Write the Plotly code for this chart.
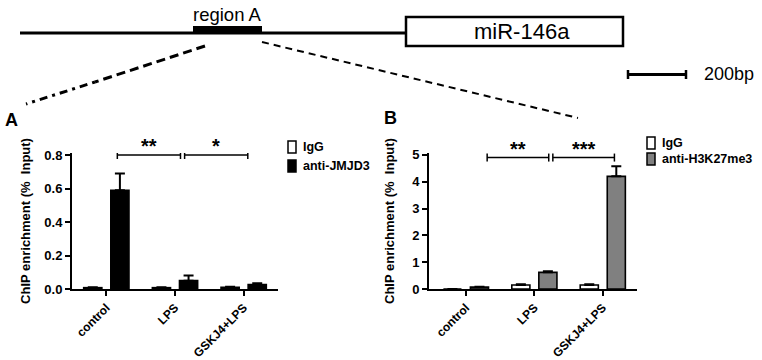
import plotly.graph_objects as go

# ---------------- data ----------------
categories = ["control", "LPS", "GSKJ4+LPS"]

a_igg = [0.008, 0.008, 0.010]
a_igg_err = [0.002, 0.002, 0.003]
a_jmjd3 = [0.59, 0.05, 0.027]
a_jmjd3_err = [0.10, 0.03, 0.008]

b_igg = [0.0, 0.15, 0.15]
b_igg_err = [0.0, 0.03, 0.03]
b_h3 = [0.07, 0.62, 4.2]
b_h3_err = [0.01, 0.04, 0.38]

a_yticks = [0.0, 0.2, 0.4, 0.6, 0.8]
b_yticks = [0, 1, 2, 3, 4, 5]

# significance brackets: (x0, x1, y, label) in category-index units
a_sig = [(0.16, 1.08, 0.80, "**"), (1.14, 2.06, 0.80, "*")]
b_sig = [(0.31, 1.21, 4.9, "**"), (1.27, 2.17, 4.9, "***")]

W, H = 762, 360
FONT = "Arial, Liberation Sans, Helvetica, sans-serif"


def px(x):
    return x / W


def py(y):
    return 1 - y / H


fig = go.Figure()


def bar(x, y, err, name, color, xa, ya):
    return go.Bar(
        x=x, y=y, name=name, xaxis=xa, yaxis=ya, showlegend=False,
        marker=dict(color=color, line=dict(color="black", width=1.6)),
        error_y=dict(type="data", array=err, arrayminus=[0] * len(err),
                     symmetric=False, color="black", thickness=2, width=5),
    )


fig.add_trace(bar(categories, a_igg, a_igg_err, "IgG", "white", "x", "y"))
fig.add_trace(bar(categories, a_jmjd3, a_jmjd3_err, "anti-JMJD3", "black", "x", "y"))
fig.add_trace(bar(categories, b_igg, b_igg_err, "IgG", "white", "x2", "y2"))
fig.add_trace(bar(categories, b_h3, b_h3_err, "anti-H3K27me3", "#808080", "x2", "y2"))

axis_common = dict(showline=True, linecolor="black", linewidth=2, ticks="outside",
                   tickwidth=2, ticklen=5, tickcolor="black", showgrid=False,
                   zeroline=False, automargin=False,
                   tickfont=dict(family=FONT, size=13, color="black"))
xtickfont = dict(family=FONT, size=12, color="black")

ytitle = "<b>ChIP enrichment (%  Input)</b>"

fig.update_layout(
    width=W, height=H, margin=dict(l=0, r=0, t=0, b=0, pad=0, autoexpand=False),
    paper_bgcolor="white", plot_bgcolor="white",
    barmode="group", bargap=0.21, bargroupgap=0.33,
    font=dict(family=FONT, color="black"),
    xaxis=dict(domain=[px(72), px(278)], anchor="y", range=[-0.5, 2.5],
               tickangle=-45, tickvals=[0, 1, 2], ticktext=["<b>%s</b>" % c for c in categories],
               **{**axis_common, "tickfont": xtickfont}),
    yaxis=dict(domain=[py(289), py(153)], anchor="x", range=[0, 0.812],
               tickvals=a_yticks, ticktext=["<b>%.1f</b>" % v for v in a_yticks],
               title=dict(text=ytitle, font=dict(family=FONT, size=13, color="black"), standoff=11),
               **axis_common),
    xaxis2=dict(domain=[px(429), px(637)], anchor="y2", range=[-0.54, 2.5],
                tickangle=-45, tickvals=[0, 1, 2], ticktext=["<b>%s</b>" % c for c in categories],
                **{**axis_common, "tickfont": xtickfont}),
    yaxis2=dict(domain=[py(289), py(153)], anchor="x2", range=[0, 5.07],
                tickvals=b_yticks, ticktext=["<b>%d</b>" % v for v in b_yticks],
                title=dict(text=ytitle, font=dict(family=FONT, size=13, color="black"), standoff=15),
                **axis_common),
)

shapes = []
annotations = []

# significance brackets
for sig, xr, yr in ((a_sig, "x", "y"), (b_sig, "x2", "y2")):
    for x0, x1, y, lab in sig:
        shapes.append(dict(type="line", xref=xr, yref=yr, x0=x0, x1=x1, y0=y, y1=y,
                           line=dict(color="black", width=1.5)))
        for xc in (x0, x1):
            shapes.append(dict(type="line", xref=xr, yref=yr, ysizemode="pixel", yanchor=y,
                               x0=xc, x1=xc, y0=-4, y1=4, line=dict(color="black", width=1.5)))
        annotations.append(dict(xref=xr, yref=yr, x=(x0 + x1) / 2, y=y, text="<b>%s</b>" % lab,
                                showarrow=False, yanchor="bottom", yshift=-4,
                                font=dict(family=FONT, size=20, color="black")))

# legends (custom)
legends = [
    (288, [(147, "white", "IgG"), (166, "black", "anti-JMJD3")]),
    (647, [(143, "white", "IgG"), (159, "#808080", "anti-H3K27me3")]),
]
for lx, items in legends:
    for cy, col, lab in items:
        shapes.append(dict(type="rect", xref="paper", yref="paper",
                           x0=px(lx), x1=px(lx + 8), y0=py(cy + 6), y1=py(cy - 6),
                           fillcolor=col, line=dict(color="black", width=1.5)))
        annotations.append(dict(xref="paper", yref="paper", x=px(lx + 13), y=py(cy),
                                xanchor="left", yanchor="middle", showarrow=False,
                                text="<b>%s</b>" % lab,
                                font=dict(family=FONT, size=12.5, color="black")))

# panel letters
for lx, ly, lab in ((3, 120, "A"), (382, 118, "B")):
    annotations.append(dict(xref="paper", yref="paper", x=px(lx), y=py(ly), xanchor="left",
                            yanchor="middle", showarrow=False, text="<b>%s</b>" % lab,
                            font=dict(family=FONT, size=18, color="black")))

# gene diagram
shapes += [
    dict(type="line", xref="paper", yref="paper", x0=px(20), x1=px(406), y0=py(33), y1=py(33),
         line=dict(color="black", width=3)),
    dict(type="rect", xref="paper", yref="paper", x0=px(193), x1=px(262), y0=py(34), y1=py(26),
         fillcolor="black", line=dict(color="black", width=0)),
    dict(type="rect", xref="paper", yref="paper", x0=px(406), x1=px(623), y0=py(46), y1=py(17),
         fillcolor="white", line=dict(color="black", width=2.5)),
    # scale bar
    dict(type="line", xref="paper", yref="paper", x0=px(627), x1=px(687), y0=py(74.5), y1=py(74.5),
         line=dict(color="black", width=3)),
    dict(type="line", xref="paper", yref="paper", x0=px(628), x1=px(628), y0=py(70), y1=py(79),
         line=dict(color="black", width=2.5)),
    dict(type="line", xref="paper", yref="paper", x0=px(686), x1=px(686), y0=py(70), y1=py(79),
         line=dict(color="black", width=2.5)),
    # zoom lines
    dict(type="line", xref="paper", yref="paper", x0=px(205), x1=px(95), y0=py(46), y1=py(82),
         line=dict(color="black", width=3, dash="9px,5px")),
    dict(type="line", xref="paper", yref="paper", x0=px(95), x1=px(26), y0=py(82), y1=py(104),
         line=dict(color="black", width=3, dash="3px,5px,8px,5px")),
    dict(type="line", xref="paper", yref="paper", x0=px(262), x1=px(578), y0=py(42), y1=py(118),
         line=dict(color="black", width=2, dash="7px,5px")),
]
annotations += [
    dict(xref="paper", yref="paper", x=px(227), y=py(15), text="region A", showarrow=False,
         xanchor="center", yanchor="middle", font=dict(family=FONT, size=18.5, color="black")),
    dict(xref="paper", yref="paper", x=px(522), y=py(31), text="miR-146a", showarrow=False,
         xanchor="center", yanchor="middle", font=dict(family=FONT, size=22, color="black")),
    dict(xref="paper", yref="paper", x=px(702), y=py(74), text="200bp", showarrow=False,
         xanchor="left", yanchor="middle", font=dict(family=FONT, size=18, color="black")),
]

fig.update_layout(shapes=shapes, annotations=annotations)
fig.write_html("out.html", config={"displayModeBar": False},
               post_script="document.body.style.margin='0px';document.body.style.overflow='hidden';")
